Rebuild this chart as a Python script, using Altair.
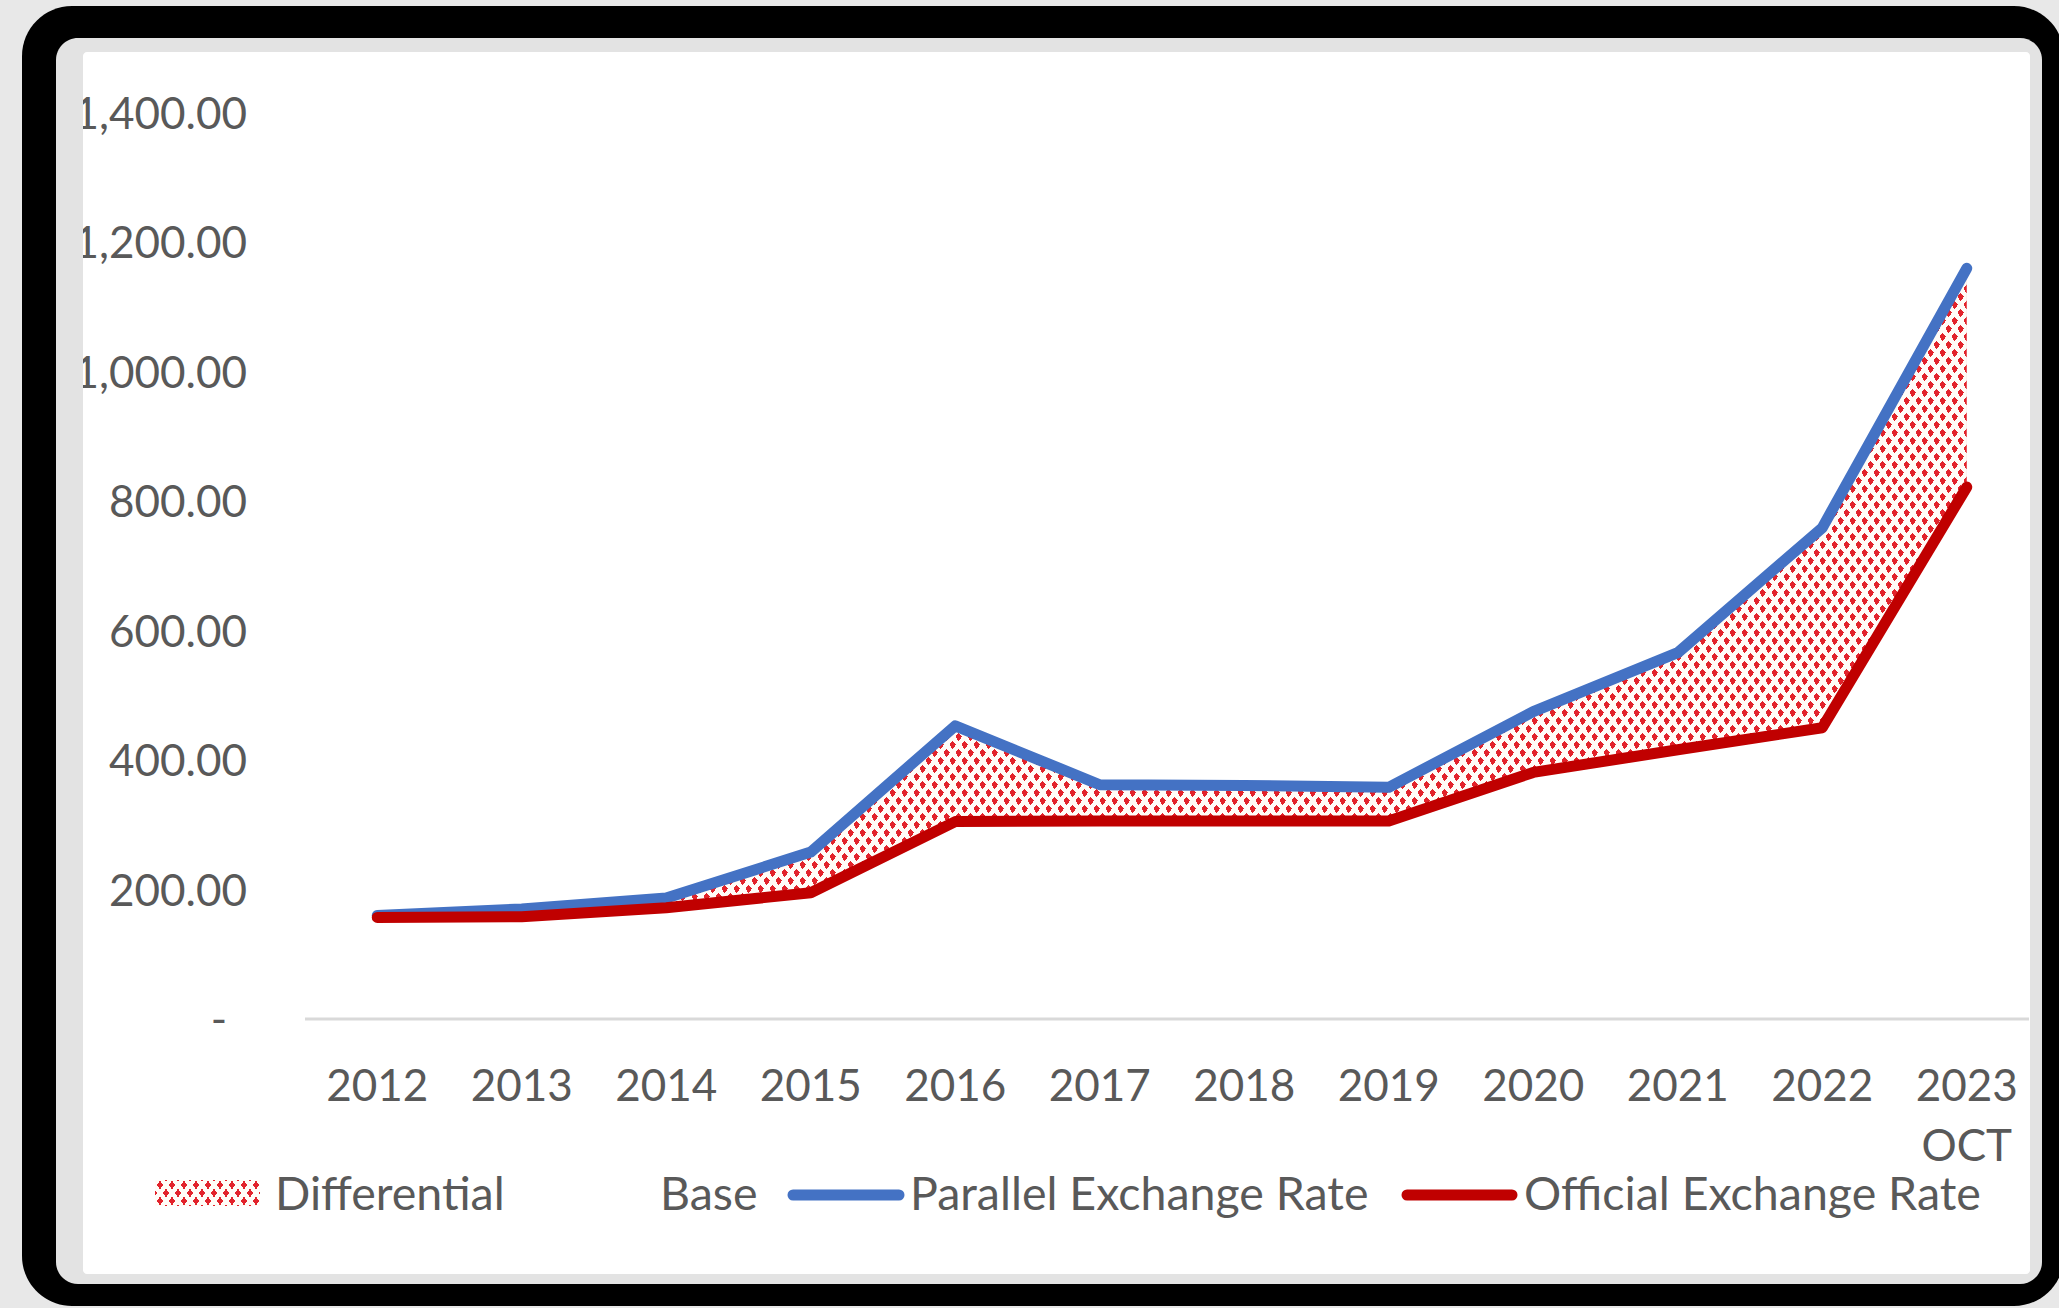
import altair as alt
import pandas as pd

# ---- data -------------------------------------------------------------
years = ["2012", "2013", "2014", "2015", "2016", "2017",
         "2018", "2019", "2020", "2021", "2022", "2023"]
x_labels = ["2012", "2013", "2014", "2015", "2016", "2017",
            "2018", "2019", "2020", "2021", "2022", "2023\nOCT"]
parallel_rate = [160, 170, 187, 258, 453, 362, 361, 358, 475, 566, 759, 1160]
official_rate = [157, 158, 172, 195, 305, 306, 306, 306, 381, 416, 450, 822]
y_ticks = [0, 200, 400, 600, 800, 1000, 1200, 1400]
y_tick_labels = ["-", "200.00", "400.00", "600.00", "800.00",
                 "1,000.00", "1,200.00", "1,400.00"]
legend_names = ["Differential", "Base", "Parallel Exchange Rate",
                "Official Exchange Rate"]

# ---- layout / style ---------------------------------------------------
IMG_W, IMG_H = 2059, 1308
PAD_L, PAD_T = 305, 113
W, H = 1734, 906
Y_MAX = 1400

FONT = "Lato"
FS = 44
LEG_FS = 46.5
TEXT = "#595959"
BLUE = "#4472C4"
RED = "#C00000"
DOT = "#E2232B"
PAPER = "#FFFCF7"
CLEAR = "rgba(255,252,247,0)"
OUTER_BG = "#E8E8E8"
FRAME = "#000000"
BEZEL = "#E3E3E3"


def px(v):
    return v - PAD_L


def py(v):
    return v - PAD_T


def stripe_gradient(nx, ny, w, h, spacing=12.0, open_px=6.5):
    """Opaque paper stripes with clear gaps; the stripes run perpendicular
    to (nx, ny) in pixel space inside a w x h bounding box."""
    corners = [(0, 0), (w, 0), (0, h), (w, h)]
    s_vals = [nx * cx + ny * cy for cx, cy in corners]
    s_min, s_max = min(s_vals), max(s_vals)
    span = s_max - s_min
    cx, cy = corners[s_vals.index(s_min)]
    u1, v1 = cx / w, cy / h
    m = nx * nx * w * w + ny * ny * h * h
    q = span / m
    u2, v2 = u1 + nx * w * q, v1 + ny * h * q
    period = abs(nx) * spacing / span
    solid = period * (1 - open_px / spacing)
    stops = []
    t = 0.0
    while t < 1:
        a, b, c = t, min(t + solid, 1), min(t + period, 1)
        stops += [(a, PAPER), (b, PAPER), (b, CLEAR), (c, CLEAR)]
        t += period
    return {
        "gradient": "linear",
        "x1": round(u1, 6), "y1": round(v1, 6),
        "x2": round(u2, 6), "y2": round(v2, 6),
        "stops": [{"offset": round(o, 6), "color": col} for o, col in stops],
    }


def dotted_pair(w, h):
    # two crossing stripe families leave a staggered grid of red dots
    return stripe_gradient(8, -6, w, h), stripe_gradient(8, 6, w, h)


# bounding box of the differential band, for the dot pattern
step = W / len(years)
xs_px = [(i + 0.5) * step for i in range(len(years))]
top_px = min(H * (1 - v / Y_MAX) for v in parallel_rate)
bot_px = max(H * (1 - v / Y_MAX) for v in official_rate)
band_w = xs_px[-1] - xs_px[0]
band_h = bot_px - top_px
band_a, band_b = dotted_pair(band_w, band_h)

df = pd.DataFrame({"year": years, "parallel": parallel_rate,
                   "official": official_rate, "label": x_labels})
ydf = pd.DataFrame({"v": y_ticks, "label": y_tick_labels})
one = alt.Data(values=[{"k": 1}])

xscale = alt.Scale(type="point", domain=years, padding=0.5)
yscale = alt.Scale(domain=[0, Y_MAX], nice=False, zero=True)
X = alt.X("year:N", scale=xscale, axis=None)


def panel(x0, y0, x1, y1, fill, radius=0):
    return alt.Chart(one).mark_rect(fill=fill, cornerRadius=radius).encode(
        x=alt.value(px(x0)), x2=alt.value(px(x1)),
        y=alt.value(py(y0)), y2=alt.value(py(y1)))


def label(text, x, y, **kw):
    return alt.Chart(one).mark_text(
        text=text, font=FONT, fontSize=LEG_FS, color=TEXT, align="left",
        baseline="alphabetic", **kw).encode(x=alt.value(px(x)), y=alt.value(py(y)))


# ---- frame ------------------------------------------------------------
CARD_L = 83
frame = panel(22, 6, 2064, 1306, FRAME, 50)
bezel = panel(56, 38, 2042, 1284, BEZEL, 22)
card = panel(CARD_L, 52, 2030, 1274, "#FFFFFF", 4)
left_bezel = panel(57, 60, CARD_L, 1266, BEZEL)

baseline = alt.Chart(one).mark_rule(color="#D9D9D9", strokeWidth=3).encode(
    x=alt.value(0), x2=alt.value(px(2029)), y=alt.value(H))

# ---- differential band ------------------------------------------------
band_enc = dict(x=X, y=alt.Y("parallel:Q", scale=yscale, axis=None),
                y2=alt.Y2("official:Q"))
band_red = alt.Chart(df).mark_area(fill=DOT, opacity=1).encode(**band_enc)
band_s1 = alt.Chart(df).mark_area(fill=band_a, opacity=1).encode(**band_enc)
band_s2 = alt.Chart(df).mark_area(fill=band_b, opacity=1).encode(**band_enc)

# ---- rate lines -------------------------------------------------------
line_kw = dict(strokeWidth=11, strokeCap="round", strokeJoin="round")
par_line = alt.Chart(df).mark_line(color=BLUE, **line_kw).encode(
    x=X, y=alt.Y("parallel:Q", scale=yscale, axis=None))
off_line = alt.Chart(df).mark_line(color=RED, **line_kw).encode(
    x=X, y=alt.Y("official:Q", scale=yscale, axis=None))

# ---- axis labels ------------------------------------------------------
y_lab = alt.Chart(ydf).transform_filter("datum.v > 0").mark_text(
    font=FONT, fontSize=FS, color=TEXT, align="right",
    baseline="alphabetic", dy=16).encode(
    x=alt.value(px(247)), y=alt.Y("v:Q", scale=yscale, axis=None),
    text="label:N")
y_zero = alt.Chart(ydf).transform_filter("datum.v == 0").mark_text(
    font=FONT, fontSize=FS, color=TEXT, align="center",
    baseline="alphabetic", dy=16).encode(
    x=alt.value(px(219)), y=alt.Y("v:Q", scale=yscale, axis=None),
    text="label:N")
x_lab = alt.Chart(df).mark_text(
    font=FONT, fontSize=FS, color=TEXT, align="center",
    baseline="alphabetic", lineBreak="\n", lineHeight=60).encode(
    x=X, y=alt.value(py(1101)), text="label:N")

# ---- legend -----------------------------------------------------------
sw_x0, sw_x1, sw_y0, sw_y1 = 155, 260, 1180, 1206
sw_a, sw_b = dotted_pair(sw_x1 - sw_x0, sw_y1 - sw_y0)
sw_red = panel(sw_x0, sw_y0, sw_x1, sw_y1, DOT)
sw_s1 = panel(sw_x0, sw_y0, sw_x1, sw_y1, sw_a)
sw_s2 = panel(sw_x0, sw_y0, sw_x1, sw_y1, sw_b)


def swatch_line(x0, x1, y, color):
    return alt.Chart(one).mark_rule(color=color, strokeWidth=11,
                                    strokeCap="round").encode(
        x=alt.value(px(x0)), x2=alt.value(px(x1)), y=alt.value(py(y)))


LEG_Y = 1210
leg = [
    sw_red, sw_s1, sw_s2,
    label(legend_names[0], 275, LEG_Y),
    label(legend_names[1], 660, LEG_Y),
    swatch_line(793, 899, 1195, BLUE),
    label(legend_names[2], 910, LEG_Y),
    swatch_line(1407, 1512, 1195, RED),
    label(legend_names[3], 1524, LEG_Y),
]

chart = alt.layer(
    frame, bezel, card, baseline,
    band_red, band_s1, band_s2,
    par_line, off_line,
    y_lab, y_zero, x_lab,
    *leg,
    left_bezel,
).properties(
    width=W, height=H,
    autosize=alt.AutoSizeParams(type="none"),
    padding={"left": PAD_L, "top": PAD_T,
             "right": IMG_W - PAD_L - W, "bottom": IMG_H - PAD_T - H},
    background=OUTER_BG,
).configure_view(stroke="transparent")

chart.save("out.html", embed_options={"renderer": "svg", "actions": False})
